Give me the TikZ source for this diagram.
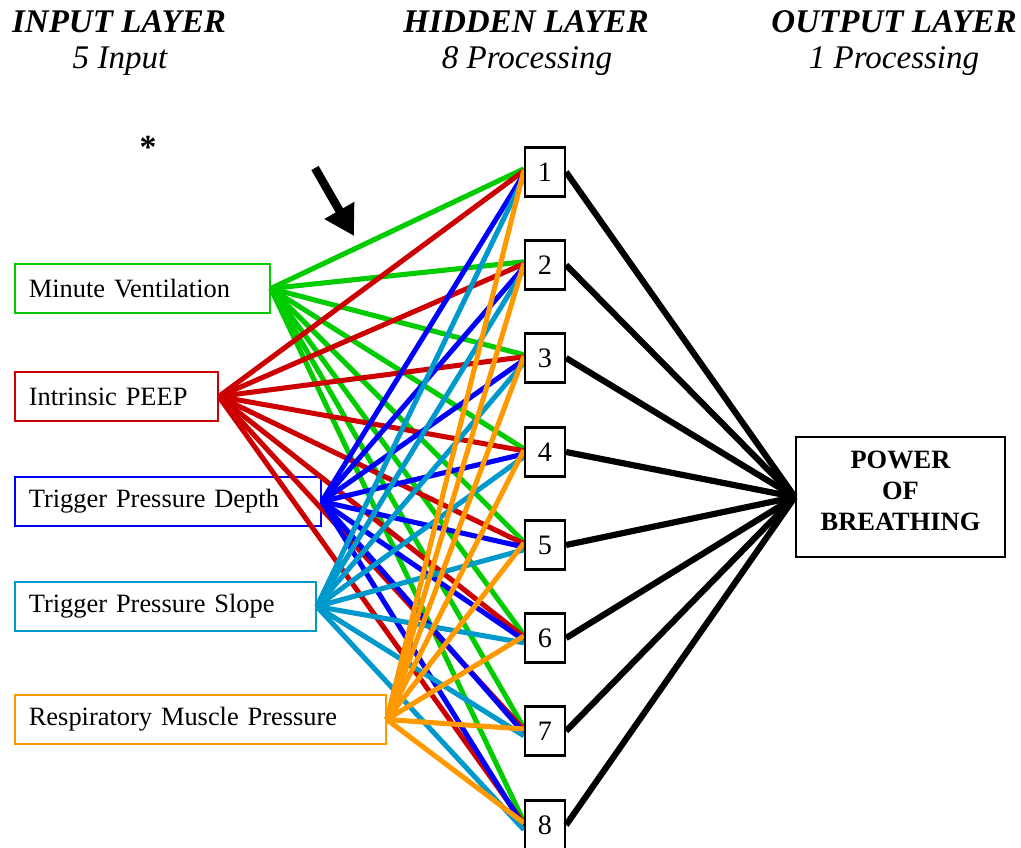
\documentclass[tikz,border=0pt]{standalone}
\usepackage{fontspec}
\setmainfont{Liberation Serif}
\usetikzlibrary{arrows.meta}

\definecolor{mvgreen}{RGB}{0,204,0}
\definecolor{pepred}{RGB}{204,0,0}
\definecolor{tpdblue}{RGB}{0,0,255}
\definecolor{tpscyan}{RGB}{0,153,204}
\definecolor{rmporange}{RGB}{255,153,0}

\begin{document}
\begin{tikzpicture}[x=0.025cm,y=-0.025cm,
    head/.style={font=\fontsize{23.5}{27}\selectfont\bfseries\itshape},
    sub/.style={font=\fontsize{23.5}{27}\selectfont\itshape},
    inbox/.style={draw=#1, line width=1.2pt, anchor=west, minimum height=1.225cm,
        inner xsep=0.35cm, align=left, font=\fontsize{18.8}{22}\selectfont},
    hid/.style={draw, line width=1.5pt, minimum width=1cm, minimum height=1.225cm,
        inner sep=0pt, fill=white, font=\fontsize{20}{24}\selectfont},
    conn/.style={line width=3.6pt},
    outconn/.style={line width=4.4pt}]
    \useasboundingbox (0,0) rectangle (1021,848);

    % layer titles
    \node[head] (tin)  at (119,22) {INPUT LAYER};
    \node[sub]  (sin)  at (120,61) {5 Input};
    \node[head] (thid) at (526,22) {HIDDEN LAYER};
    \node[sub]  (shid) at (527,61) {8 Processing};
    \node[head] (tout) at (894,22) {OUTPUT LAYER};
    \node[sub]  (sout) at (894,61) {1 Processing};

    % star and pointer
    \node[font=\fontsize{24}{24}\selectfont\bfseries] (star) at (148,147) {*};
    \coordinate (tail) at (315,168);
    \coordinate (tip) at (354,236);
    \draw[line width=6pt, -{Triangle[length=21pt,width=23pt]}] (tail) -- (tip);

    % input nodes
    \foreach \name/\y/\w/\col/\txt in {
        mv/288.5/6.375cm/mvgreen/Minute Ventilation,
        pep/396.5/5.075cm/pepred/Intrinsic PEEP,
        tpd/501.5/7.65cm/tpdblue/Trigger Pressure Depth,
        tps/606.5/7.525cm/tpscyan/Trigger Pressure Slope,
        rmp/719.5/9.275cm/rmporange/Respiratory Muscle Pressure}
        \node[inbox=\col, text width=\w-0.7cm] (\name) at (14,\y) {\txt};

    % hidden nodes
    \foreach \i/\y in {1/172,2/265,3/358,4/452,5/545,6/638,7/731,8/825}
        \node[hid] (h\i) at (545,\y) {\i};

    % input -> hidden
    \foreach \src/\col/\dy in {mv/mvgreen/0.08cm, pep/pepred/0.03cm,
        tpd/tpdblue/-0.05cm, tps/tpscyan/-0.12cm, rmp/rmporange/0.05cm}
        \foreach \i in {1,...,8}
            \draw[conn, \col] (\src.east) -- ([yshift=\dy]h\i.west);

    % redraw hidden boxes on top
    \foreach \i in {1,...,8}
        \node[hid] (k\i) at (h\i) {\i};

    % output node
    \node[draw, line width=1.5pt, minimum width=5.225cm, minimum height=3cm]
        (out) at (900.5,497) {};
    \node[align=center, font=\fontsize{18.8}{22}\selectfont\bfseries]
        (outtxt) at (900.5,491) {POWER\\OF\\BREATHING};

    % hidden -> output
    \foreach \i in {1,...,8}
        \draw[outconn] (h\i.east) -- (out.west);
\end{tikzpicture}
\end{document}
